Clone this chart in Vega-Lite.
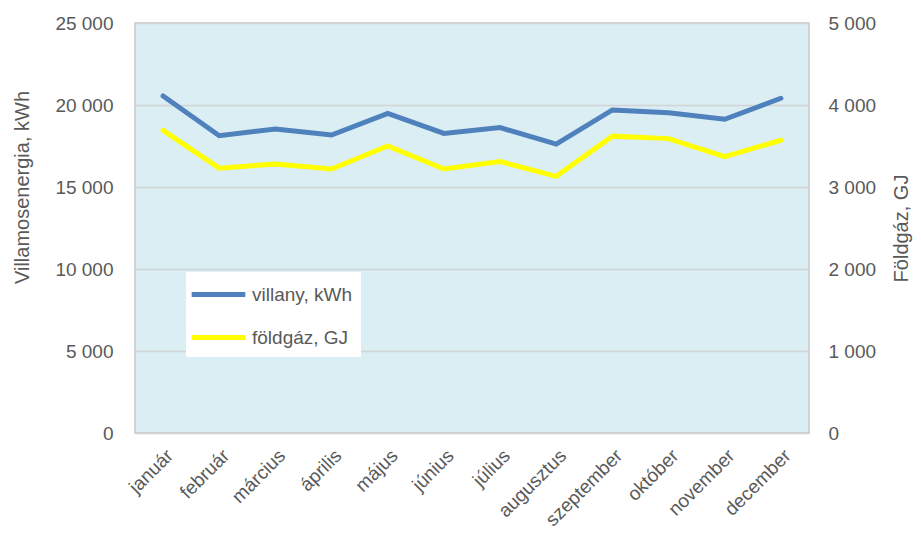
{
  "$schema": "https://vega.github.io/schema/vega-lite/v6.json",
  "autosize": {"type": "none"},
  "width": 674,
  "height": 410,
  "padding": {"left": 135, "top": 23, "right": 112, "bottom": 101},
  "background": "white",
  "config": {
    "font": "Liberation Sans",
    "view": {"fill": "#DAEEF3", "stroke": "#C8C8C8", "strokeWidth": 1.5},
    "axis": {"labelColor": "#595959", "titleColor": "#595959", "labelFont": "Liberation Sans", "titleFont": "Liberation Sans", "titleFontWeight": "normal", "ticks": false, "domain": false}
  },
  "data": {
    "values": [
      {"honap": "január", "villany": 20550, "foldgaz": 3690},
      {"honap": "február", "villany": 18130, "foldgaz": 3230},
      {"honap": "március", "villany": 18540, "foldgaz": 3280},
      {"honap": "április", "villany": 18170, "foldgaz": 3220},
      {"honap": "május", "villany": 19490, "foldgaz": 3500},
      {"honap": "június", "villany": 18270, "foldgaz": 3220},
      {"honap": "július", "villany": 18620, "foldgaz": 3310},
      {"honap": "augusztus", "villany": 17620, "foldgaz": 3130},
      {"honap": "szeptember", "villany": 19700, "foldgaz": 3620},
      {"honap": "október", "villany": 19530, "foldgaz": 3590},
      {"honap": "november", "villany": 19130, "foldgaz": 3370},
      {"honap": "december", "villany": 20410, "foldgaz": 3570}
    ]
  },
  "encoding": {
    "x": {
      "field": "honap", "type": "ordinal", "sort": null,
      "scale": {"type": "point", "padding": 0.5},
      "axis": {"title": null, "labelAngle": -45, "labelFontSize": 19, "labelPadding": 13, "labelDx": -7, "grid": false}
    }
  },
  "layer": [
    {
      "mark": {"type": "line", "strokeWidth": 5, "strokeCap": "round", "strokeJoin": "miter"},
      "encoding": {
        "y": {
          "field": "villany", "type": "quantitative",
          "scale": {"domain": [0, 25000]},
          "axis": {
            "orient": "left", "title": "Villamosenergia, kWh", "values": [0, 5000, 10000, 15000, 20000, 25000],
            "labelExpr": "replace(format(datum.value, ','), ',', ' ')",
            "labelFontSize": 19, "labelPadding": 22,
            "grid": true, "gridColor": "#D4D4D4", "gridWidth": 1.5,
            "titleFontSize": 20, "titleX": -113, "titleY": 164, "titleBaseline": "middle", "titleAngle": -90
          }
        },
        "color": {
          "datum": "villany, kWh", "type": "nominal",
          "scale": {"domain": ["villany, kWh", "földgáz, GJ"], "range": ["#4F81BD", "#FFFF00"]},
          "legend": {
            "title": null, "orient": "none", "legendX": 51, "legendY": 249,
            "fillColor": "white", "padding": 9,
            "symbolType": "M-2.5,0H2.5", "symbolSize": 460, "symbolStrokeWidth": 5,
            "symbolOffset": 10,
            "labelFontSize": 19, "labelColor": "#595959", "labelFont": "Liberation Sans",
            "labelOffset": 20, "rowPadding": 19
          }
        }
      }
    },
    {
      "mark": {"type": "line", "strokeWidth": 5, "strokeCap": "round", "strokeJoin": "miter"},
      "encoding": {
        "y": {
          "field": "foldgaz", "type": "quantitative",
          "scale": {"domain": [0, 5000]},
          "axis": {
            "orient": "right", "title": "Földgáz, GJ", "values": [0, 1000, 2000, 3000, 4000, 5000],
            "labelExpr": "replace(format(datum.value, ','), ',', ' ')",
            "labelFontSize": 19, "labelPadding": 19, "grid": false,
            "titleFontSize": 20, "titleAngle": -90, "titleX": 92, "titleY": 205, "titleBaseline": "middle"
          }
        },
        "color": {"datum": "földgáz, GJ", "type": "nominal"}
      }
    }
  ],
  "resolve": {"scale": {"y": "independent"}}
}
